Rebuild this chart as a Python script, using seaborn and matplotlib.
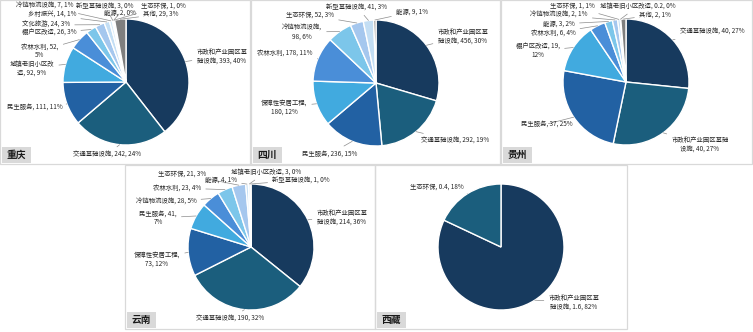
import matplotlib
matplotlib.use('Agg')
import matplotlib.pyplot as plt
from matplotlib.patches import Rectangle
import seaborn as sns
import numpy as np

# ---------------- data ----------------
cq_cats = ['市政和产业园区基础设施', '交通基础设施', '民生服务', '城镇老旧小区改造', '农林水利',
           '棚户区改造', '文化旅游', '乡村振兴', '冷链物流设施', '新型基础设施', '能源', '生态环保', '其他']
cq_vals = [393, 242, 111, 92, 52, 26, 24, 14, 7, 3, 2, 1, 29]
cq_pcts = [40, 24, 11, 9, 5, 3, 3, 1, 1, 0, 0, 0, 3]

sc_cats = ['市政和产业园区基础设施', '交通基础设施', '民生服务', '保障性安居工程', '农林水利',
           '冷链物流设施', '生态环保', '新型基础设施', '能源']
sc_vals = [456, 292, 236, 180, 178, 98, 52, 41, 9]
sc_pcts = [30, 19, 15, 12, 11, 6, 3, 3, 1]

gz_cats = ['交通基础设施', '市政和产业园区基础设施', '民生服务', '棚户区改造', '农林水利',
           '能源', '冷链物流设施', '生态环保', '城镇老旧小区改造', '其他']
gz_vals = [40, 40, 37, 19, 6, 3, 2, 1, 0.2, 2]
gz_pcts = [27, 27, 25, 12, 4, 2, 1, 1, 0, 1]

yn_cats = ['市政和产业园区基础设施', '交通基础设施', '保障性安居工程', '民生服务', '冷链物流设施',
           '农林水利', '生态环保', '能源', '城镇老旧小区改造', '新型基础设施']
yn_vals = [214, 190, 73, 41, 28, 23, 21, 4, 3, 1]
yn_pcts = [36, 32, 12, 7, 5, 4, 3, 1, 0, 0]

xz_cats = ['市政和产业园区基础设施', '生态环保']
xz_vals = [1.64, 0.36]
xz_pcts = [82, 18]

titles = ['重庆', '四川', '贵州', '云南', '西藏']

# ---------------- style / layout ----------------
sns.set_theme(style='white')
plt.rcParams['font.family'] = ['Noto Sans CJK SC', 'DejaVu Sans']

BLUES = ['#173a5e', '#1b5e7d', '#2261a3', '#41aadf', '#4a8ed8', '#7cc6ea',
         '#a5c7ee', '#c3def4', '#d6eaf8', '#bcd6ee', '#9fc2e6', '#e3f0fa']
GREY = '#7f7f7f'

W, H = 753, 332
R = 63.0
fig = plt.figure(figsize=(W / 100, H / 100), dpi=100)
fig.patch.set_facecolor('white')

# label layout: (x px, y px, line-break index) in image pixels
cq_lab = [(222, 56, 8), (107, 155, 0), (35, 107, 0), (32, 68, 7), (40, 51, 9),
          (49, 33, 0), (46, 25, 0), (52, 15, 0), (45, 6, 0), (105, 6, 0),
          (120, 13, 0), (163, 6, 0), (161, 14, 0)]
sc_lab = [(463, 36, 8), (455, 141, 0), (330, 154, 0), (284, 107, 8), (285, 53, 0),
          (302, 32, 7), (310, 15, 0), (357, 7, 0), (412, 12, 0)]
gz_lab = [(712, 32, 0), (700, 144, 9), (547, 124, 0), (538, 51, 10), (553, 33, 0),
          (559, 24, 0), (559, 15, 0), (572, 6, 0), (638, 6, 0), (655, 15, 0)]
yn_lab = [(342, 217, 8), (230, 319, 0), (157, 259, 8), (158, 218, 9), (166, 202, 0),
          (177, 188, 0), (182, 174, 0), (221, 180, 0), (266, 172, 0), (301, 180, 0)]
xz_lab = [(574, 302, 8), (437, 187, 0)]

panels = [
    dict(rect=(0, 0, 250, 164), c=(126, 82), cats=cq_cats, vals=cq_vals, pcts=cq_pcts,
         lab=cq_lab, grey_last=True),
    dict(rect=(251, 0, 249, 164), c=(376, 83), cats=sc_cats, vals=sc_vals, pcts=sc_pcts,
         lab=sc_lab, grey_last=True),
    dict(rect=(501, 0, 251, 164), c=(626, 82), cats=gz_cats, vals=gz_vals, pcts=gz_pcts,
         lab=gz_lab, grey_last=True),
    dict(rect=(125, 165, 250, 164), c=(251, 247), cats=yn_cats, vals=yn_vals, pcts=yn_pcts,
         lab=yn_lab, grey_last=False),
    dict(rect=(375, 165, 252, 164), c=(501, 247), cats=xz_cats, vals=xz_vals, pcts=xz_pcts,
         lab=xz_lab, grey_last=False),
]


def fmt(v):
    return f"{round(v, 1):g}"


for p, title in zip(panels, titles):
    x0, y0, w, h = p['rect']
    cx, cy = p['c']
    n = len(p['vals'])
    colors = BLUES[:n - 1] + [GREY] if p['grey_last'] else BLUES[:n]

    ax = fig.add_axes([x0 / W, 1 - (y0 + h) / H, w / W, h / H])
    wedges, _ = ax.pie(p['vals'], colors=colors, startangle=90, counterclock=False,
                       radius=1, center=(0, 0),
                       wedgeprops=dict(edgecolor='white', linewidth=1.0))
    ax.set_aspect('auto')
    ax.set_xlim((x0 - cx) / R, (x0 + w - cx) / R)
    ax.set_ylim(-(y0 + h - cy) / R, (cy - y0) / R)
    ax.set_axis_off()

    for wdg, cat, v, pc, (lx, ly, brk) in zip(wedges, p['cats'], p['vals'], p['pcts'], p['lab']):
        s = f"{cat}, {fmt(v)}, {pc}%"
        if brk:
            s = s[:brk] + '\n' + s[brk:].lstrip()
        th = np.deg2rad((wdg.theta1 + wdg.theta2) / 2)
        ex, ey = np.cos(th), np.sin(th)
        tx, ty = (lx - cx) / R, -(ly - cy) / R
        ax.annotate(s, xy=(ex, ey), xytext=(tx, ty), ha='center', va='center',
                    fontsize=4.6, color='#262626', linespacing=1.15,
                    arrowprops=dict(arrowstyle='-', color='#8c8c8c', lw=0.5,
                                    shrinkA=1, shrinkB=0))

    # panel border
    fig.add_artist(Rectangle((x0 / W, 1 - (y0 + h) / H), w / W, h / H,
                             transform=fig.transFigure, fill=False,
                             edgecolor='#d9d9d9', linewidth=0.9))
    # title box
    bx, by, bw, bh = x0 + 2, y0 + h - 17, 29, 16
    fig.add_artist(Rectangle((bx / W, 1 - (by + bh) / H), bw / W, bh / H,
                             transform=fig.transFigure, facecolor='#d9d9d9',
                             edgecolor='none'))
    fig.text((bx + bw / 2) / W, 1 - (by + bh / 2) / H, title, ha='center', va='center',
             fontsize=7, fontweight='bold', color='#1a1a1a')

fig.savefig('out.png', dpi=100, facecolor='white')
